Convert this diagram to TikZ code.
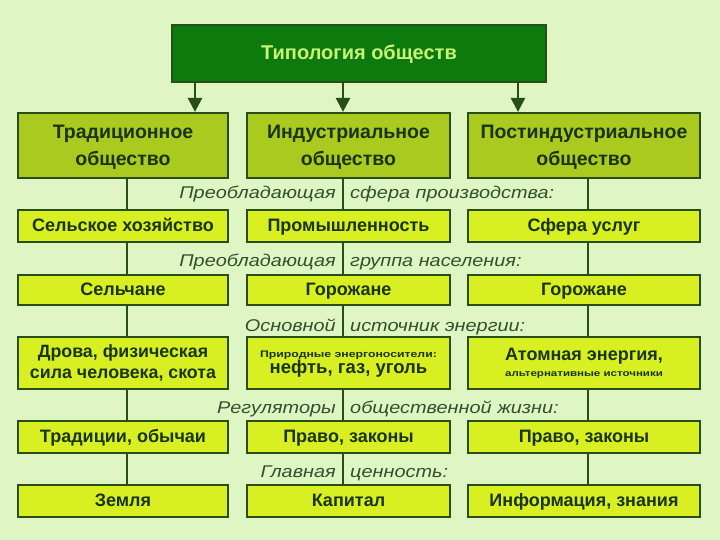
\documentclass[tikz,border=0pt]{standalone}
\usepackage{fontspec}
\usepackage{graphicx}
\setmainfont{Liberation Sans}
\usetikzlibrary{arrows.meta}
\definecolor{bgc}{RGB}{224,245,196}
\definecolor{hdrc}{RGB}{170,202,32}
\definecolor{rowc}{RGB}{216,240,34}
\definecolor{topc}{RGB}{12,122,12}
\definecolor{bord}{RGB}{38,78,22}
\definecolor{txtc}{RGB}{26,52,16}
\definecolor{labc}{RGB}{50,80,46}
\definecolor{toptxt}{RGB}{200,242,120}
\newcommand\hstretch[2]{\scalebox{#1}[1]{#2}}
\tikzset{
  box/.style={draw=bord, line width=2.2pt, inner sep=0pt, align=center, font=\bfseries\fontsize{18}{20}\selectfont, text=txtc},
  hdr/.style={box, fill=hdrc, minimum height=65pt, text depth=-1.5pt, font=\bfseries\fontsize{19.5}{27}\selectfont},
  rowbox/.style={box, fill=rowc},
  one/.style={text height=13pt, text depth=3pt},
  lab/.style={inner sep=0pt, font=\itshape\fontsize{17}{18}\selectfont, text=labc},
  conn/.style={draw=bord, line width=2.4pt},
  arr/.style={draw=bord, line width=2.6pt, -{Triangle[length=14pt,width=14pt]}},
}
\begin{document}
\begin{tikzpicture}[x=1pt,y=-1pt]
\fill[bgc] (0,0) rectangle (720,540);
\useasboundingbox (0,0) rectangle (720,540);
\coordinate (a1) at (195,0);
\coordinate (a2) at (343,0);
\coordinate (a3) at (518,0);
\coordinate (cL) at (127,0);
\coordinate (cM) at (343,0);
\coordinate (cR) at (588,0);
% top
\node[draw=bord, line width=2.2pt, fill=topc, minimum width=374pt, minimum height=57pt, inner sep=0pt,
  text height=14pt, text depth=2pt,
  text=toptxt, font=\bfseries\fontsize{20}{22}\selectfont] (top) at (359,53.5) {Типология обществ};
% headers
\node[hdr, minimum width=210pt] (h1) at (123,145.5) {Традиционное\\общество};
\node[hdr, minimum width=203pt] (h2) at (348.5,145.5) {Индустриальное\\общество};
\node[hdr, minimum width=232pt] (h3) at (584,145.5) {Постиндустриальное\\общество};
% row 1
\node[rowbox, one, minimum width=210pt, minimum height=32pt] (r1a) at (123,226) {Сельское хозяйство};
\node[rowbox, one, minimum width=203pt, minimum height=32pt] (r1b) at (348.5,226) {Промышленность};
\node[rowbox, one, minimum width=232pt, minimum height=32pt] (r1c) at (584,226) {Сфера услуг};
% row 2
\node[rowbox, one, minimum width=210pt, minimum height=30pt] (r2a) at (123,290) {Сельчане};
\node[rowbox, one, minimum width=203pt, minimum height=30pt] (r2b) at (348.5,290) {Горожане};
\node[rowbox, one, minimum width=232pt, minimum height=30pt] (r2c) at (584,290) {Горожане};
% row 3
\node[rowbox, minimum width=210pt, minimum height=52pt, font=\bfseries\fontsize{17.8}{20.5}\selectfont] (r3a) at (123,363) {Дрова, физическая\\сила человека, скота};
\node[rowbox, minimum width=203pt, minimum height=52pt, text depth=1pt, font=\bfseries\fontsize{18.5}{16}\selectfont] (r3b) at (348.5,363) {{\fontsize{9.5}{10}\selectfont\hstretch{1.29}{Природные энергоносители:}}\\нефть, газ, уголь};
\node[rowbox, minimum width=232pt, minimum height=52pt, font=\bfseries\fontsize{18}{16}\selectfont] (r3c) at (584,363) {Атомная энергия,\\{\fontsize{9}{10}\selectfont\hstretch{1.28}{альтернативные источники}}};
% row 4
\node[rowbox, one, minimum width=210pt, minimum height=32pt] (r4a) at (123,437) {Традиции, обычаи};
\node[rowbox, one, minimum width=203pt, minimum height=32pt] (r4b) at (348.5,437) {Право, законы};
\node[rowbox, one, minimum width=232pt, minimum height=32pt] (r4c) at (584,437) {Право, законы};
% row 5
\node[rowbox, one, minimum width=210pt, minimum height=32pt] (r5a) at (123,501) {Земля};
\node[rowbox, one, minimum width=203pt, minimum height=32pt] (r5b) at (348.5,501) {Капитал};
\node[rowbox, one, minimum width=232pt, minimum height=32pt] (r5c) at (584,501) {Информация, знания};
% arrows
\draw[arr] (top.south -| a1) -- (h1.north -| a1);
\draw[arr] (top.south -| a2) -- (h2.north -| a2);
\draw[arr] (top.south -| a3) -- (h3.north -| a3);
% connectors
\foreach \u/\v in {h1/r1a,r1a/r2a,r2a/r3a,r3a/r4a,r4a/r5a}
  \draw[conn] (\u.south -| cL) -- (\v.north -| cL);
\foreach \u/\v in {h2/r1b,r1b/r2b,r2b/r3b,r3b/r4b,r4b/r5b}
  \draw[conn] (\u.south -| cM) -- (\v.north -| cM);
\foreach \u/\v in {h3/r1c,r1c/r2c,r2c/r3c,r3c/r4c,r4c/r5c}
  \draw[conn] (\u.south -| cR) -- (\v.north -| cR);
% labels
\node[lab, anchor=base east] (l1a) at (336,199) {\hstretch{1.17}{Преобладающая}};
\node[lab, anchor=base west] (l1b) at (350,199) {\hstretch{1.17}{сфера производства:}};
\node[lab, anchor=base east] (l2a) at (336,266) {\hstretch{1.17}{Преобладающая}};
\node[lab, anchor=base west] (l2b) at (350,266) {\hstretch{1.17}{группа населения:}};
\node[lab, anchor=base east] (l3a) at (336,331) {\hstretch{1.17}{Основной}};
\node[lab, anchor=base west] (l3b) at (350,331) {\hstretch{1.17}{источник энергии:}};
\node[lab, anchor=base east] (l4a) at (336,413) {\hstretch{1.17}{Регуляторы}};
\node[lab, anchor=base west] (l4b) at (350,413) {\hstretch{1.17}{общественной жизни:}};
\node[lab, anchor=base east] (l5a) at (336,477) {\hstretch{1.17}{Главная}};
\node[lab, anchor=base west] (l5b) at (350,477) {\hstretch{1.17}{ценность:}};
\end{tikzpicture}
\end{document}
